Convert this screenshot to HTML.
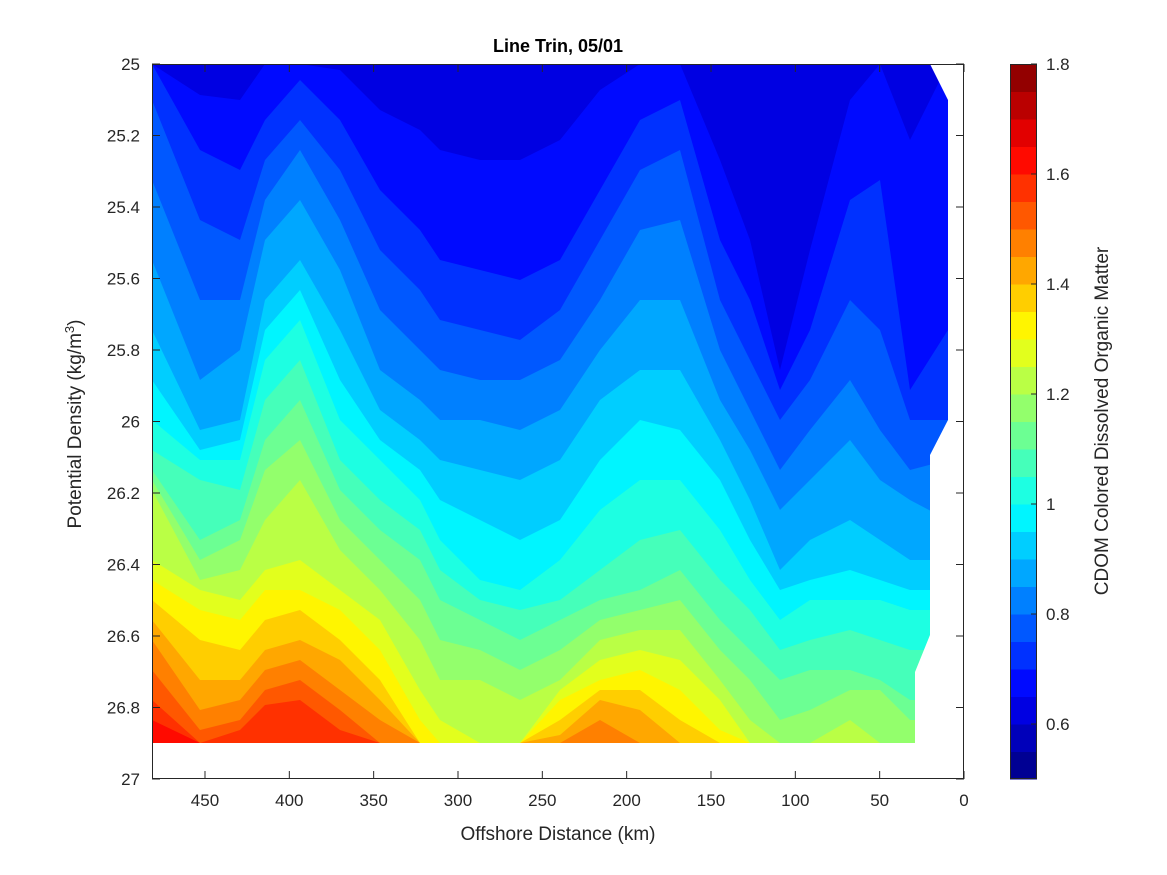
<!DOCTYPE html>
<html><head><meta charset="utf-8"><style>
html,body{margin:0;padding:0;background:#fff;}
svg{display:block;font-family:"Liberation Sans",sans-serif;}
</style></head><body>
<svg id="s" width="1167" height="875" xmlns="http://www.w3.org/2000/svg">
<rect width="1167" height="875" fill="#fff"/>
<g id="field"></g>
<polygon points="930,64 964,64 964,779 152,779 152,743 915,743 915,672 930,635 930,455 948,420 948,100" fill="#fff"/>
<g id="axes" fill="none" stroke="#262626" stroke-width="1"></g>
<text x="558" y="52" text-anchor="middle" font-size="18" font-weight="bold" fill="#000">Line Trin, 05/01</text>
<text x="558" y="840" text-anchor="middle" font-size="19" fill="#262626">Offshore Distance (km)</text>
<text transform="translate(81,424) rotate(-90)" text-anchor="middle" font-size="19" fill="#262626">Potential Density (kg/m<tspan dy="-7" font-size="13">3</tspan><tspan dy="7">)</tspan></text>
<text transform="translate(1108,421) rotate(-90)" text-anchor="middle" font-size="19" fill="#262626">CDOM Colored Dissolved Organic Matter</text>
<g id="labels" font-size="17" fill="#262626"></g>
<g id="cbar"></g>
</svg>
<script>
function jet(t){function c(v){return Math.max(0,Math.min(1,v));}
var r=c(1.5-Math.abs(4*t-3)),g=c(1.5-Math.abs(4*t-2)),b=c(1.5-Math.abs(4*t-1));
return "rgb("+Math.round(r*255)+","+Math.round(g*255)+","+Math.round(b*255)+")";}
function col(i){return jet((i+0.5)/26);}
var xs=[152,200,240,265,300,340,380,420,440,480,520,560,600,640,680,720,750,780,810,850,880,910,948];
var B=[
[64,95,100,64,64,70,110,130,150,160,160,140,90,64,64,160,240,370,250,100,64,140,64],
[64,150,170,120,80,120,190,230,260,270,280,260,190,120,100,240,300,390,330,200,180,390,330],
[100,220,240,160,120,170,250,290,320,330,340,310,240,170,150,300,360,420,380,300,330,420,420],
[180,300,300,200,150,220,310,350,370,380,380,360,300,230,220,350,410,470,430,380,430,470,460],
[260,380,350,240,200,270,370,400,420,420,430,410,350,300,300,400,450,510,480,440,480,500,520],
[330,430,420,300,260,330,410,440,460,470,480,460,400,370,370,440,500,570,540,520,540,560,560],
[380,450,440,330,290,380,440,470,500,520,540,520,460,420,430,480,540,590,580,570,580,590,590],
[420,460,460,360,320,420,460,500,540,580,590,560,510,480,480,530,580,620,600,600,600,610,610],
[450,480,490,400,360,460,500,530,570,600,610,600,570,540,530,580,610,650,640,630,640,650,650],
[470,540,520,440,400,490,530,560,600,620,640,620,600,590,570,620,650,680,670,670,680,700,700],
[480,560,540,470,440,520,560,600,640,650,670,650,620,610,600,650,680,720,710,690,690,720,720],
[490,580,570,520,480,550,590,640,680,680,700,680,640,630,630,680,720,743,743,720,743,743,743],
[560,590,600,570,560,590,620,690,720,743,743,690,660,650,660,700,743,743,743,743,743,743,743],
[580,610,620,590,590,610,650,720,743,743,743,700,680,670,690,730,743,743,743,743,743,743,743],
[600,640,650,620,610,640,680,743,743,743,743,720,690,690,720,743,743,743,743,743,743,743,743],
[620,680,680,650,640,660,700,743,743,743,743,735,700,710,743,743,743,743,743,743,743,743,743],
[640,710,700,670,660,690,720,743,743,743,743,743,720,743,743,743,743,743,743,743,743,743,743],
[670,730,720,690,680,710,743,743,743,743,743,743,743,743,743,743,743,743,743,743,743,743,743],
[700,743,730,705,700,730,743,743,743,743,743,743,743,743,743,743,743,743,743,743,743,743,743],
[720,743,743,743,743,743,743,743,743,743,743,743,743,743,743,743,743,743,743,743,743,743,743]];
var NS="http://www.w3.org/2000/svg";
function el(tag,attrs,parent,txt){var e=document.createElementNS(NS,tag);for(var k in attrs)e.setAttribute(k,attrs[k]);if(txt!=null)e.textContent=txt;parent.appendChild(e);return e;}
var f=document.getElementById("field");
el("rect",{x:152,y:64,width:796,height:679,fill:col(2)},f);
B.forEach(function(b,k){var p=[];for(var i=0;i<xs.length;i++)p.push(xs[i]+","+b[i]);
p.push("948,743","152,743");el("polygon",{points:p.join(" "),fill:col(k+3)},f);});
var ax=document.getElementById("axes"),lb=document.getElementById("labels");
el("rect",{x:152.5,y:64.5,width:811,height:714},ax);
for(var km=0;km<=450;km+=50){var x=964-km*1.6867;
el("line",{x1:x,y1:779,x2:x,y2:771},ax);el("line",{x1:x,y1:64,x2:x,y2:72},ax);
el("text",{x:x,y:806,"text-anchor":"middle"},lb,String(km));}
for(var v=0;v<=10;v++){var y=64+v*71.5;
el("line",{x1:152,y1:y,x2:160,y2:y},ax);el("line",{x1:964,y1:y,x2:956,y2:y},ax);
var s=(25+v*0.2);s=(Math.abs(s-Math.round(s))<1e-6)?String(Math.round(s)):s.toFixed(1);
el("text",{x:140,y:y+6,"text-anchor":"end"},lb,s);}
var cb=document.getElementById("cbar");var h=715/26;
for(var i=0;i<26;i++)el("rect",{x:1010,y:779-(i+1)*h,width:27,height:h+0.5,fill:col(i)},cb);
el("rect",{x:1010.5,y:64.5,width:26,height:714,fill:"none",stroke:"#262626"},cb);
for(var v=0.6;v<=1.801;v+=0.2){var y=779-(v-0.5)/1.3*715;
el("line",{x1:1031,y1:y,x2:1037,y2:y,stroke:"#262626"},cb);
var s=Math.abs(v-1)<1e-6?"1":v.toFixed(1);
el("text",{x:1046,y:y+6,"font-size":17,fill:"#262626"},cb,s);}
</script>
</body></html>
